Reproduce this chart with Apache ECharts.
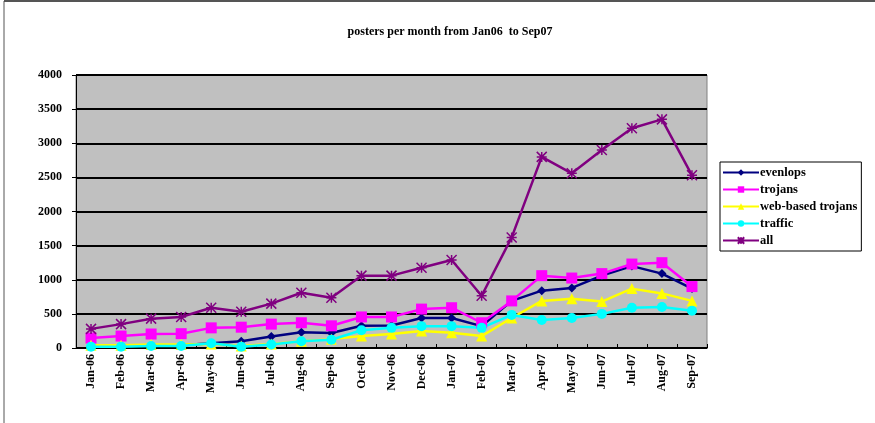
<!DOCTYPE html>
<html lang="en">
<head>
  <meta charset="UTF-8">
  <title>posters per month</title>
  <script src="https://cdn.jsdelivr.net/npm/echarts@6/dist/echarts.min.js"></script>
  <style>
    html, body { margin: 0; padding: 0; background: #fff; }
  </style>
</head>
<body>
  <div id="chart" style="width: 875px;height: 423px;"></div>

  <script type="text/javascript">
    const months = ['Jan-06', 'Feb-06', 'Mar-06', 'Apr-06', 'May-06', 'Jun-06', 'Jul-06',
      'Aug-06', 'Sep-06', 'Oct-06', 'Nov-06', 'Dec-06', 'Jan-07', 'Feb-07', 'Mar-07',
      'Apr-07', 'May-07', 'Jun-07', 'Jul-07', 'Aug-07', 'Sep-07'];

    const evenlops = [20, 30, 40, 40, 70, 100, 170, 230, 220, 325, 330, 440, 440, 320, 690, 840, 880, 1060, 1200, 1090, 870];
    const trojans = [145, 175, 205, 210, 295, 305, 350, 370, 325, 455, 455, 570, 590, 370, 690, 1060, 1025, 1090, 1230, 1250, 900];
    const webTrojans = [40, 40, 50, 50, 60, 30, 60, 100, 130, 175, 205, 250, 225, 175, 440, 690, 720, 680, 870, 800, 690];
    const traffic = [20, 20, 30, 30, 70, 20, 50, 100, 120, 260, 295, 320, 320, 295, 485, 410, 440, 500, 590, 600, 545];
    const all = [280, 350, 430, 455, 590, 530, 650, 810, 735, 1060, 1060, 1175, 1290, 765, 1620, 2800, 2560, 2900, 3220, 3350, 2530];

    const font = '"Liberation Serif", "DejaVu Serif", serif';
    const starPath = 'path://M0,0L10,10M10,0L0,10M5,0L5,10M0,5L10,5';

    function line(name, data, color, symbol, size, extra) {
      return Object.assign({
        name,
        type: 'line',
        data,
        symbol,
        symbolSize: size,
        lineStyle: { color, width: 2.5 },
        itemStyle: { color },
        z: 3,
      }, extra || {});
    }

    const myChart = echarts.init(document.getElementById('chart'));

    const option = {
      animation: false,
      backgroundColor: '#fff',
      title: {
        text: 'posters per month from Jan06  to Sep07',
        left: 445,
        top: 21,
        textAlign: 'center',
        textStyle: { fontFamily: font, fontWeight: 'bold', fontSize: 12, color: '#000' },
      },
      grid: {
        left: 76,
        top: 75,
        right: 168,
        bottom: 75,
        show: true,
        backgroundColor: '#c0c0c0',
        borderColor: '#808080',
        borderWidth: 1,
      },
      legend: {
        orient: 'vertical',
        left: 720,
        top: 162,
        itemWidth: 36,
        itemHeight: 8,
        itemGap: 4,
        padding: [4, 4, 4, 2],
        backgroundColor: '#fff',
        borderColor: '#000',
        borderWidth: 1,
        borderRadius: 0,
        textStyle: { fontFamily: font, fontWeight: 'bold', fontSize: 12.5, color: '#000', padding: [0, 0, 0, -4] },
        data: ['evenlops', 'trojans', 'web-based trojans', 'traffic', 'all'],
      },
      xAxis: {
        type: 'category',
        data: months,
        boundaryGap: true,
        axisLine: { lineStyle: { color: '#000', width: 1 } },
        axisTick: { show: true, inside: true, length: 4, lineStyle: { color: '#000' } },
        axisLabel: {
          rotate: 90,
          margin: 6,
          fontFamily: font,
          fontWeight: 'bold',
          fontSize: 12,
          color: '#000',
        },
      },
      yAxis: {
        type: 'value',
        min: 0,
        max: 4000,
        interval: 500,
        axisLine: { show: true, lineStyle: { color: '#000', width: 1 } },
        axisTick: { show: true, length: 4, lineStyle: { color: '#000' } },
        splitLine: { lineStyle: { color: '#000', width: 2 } },
        axisLabel: {
          margin: 14,
          formatter: (v) => String(v),
          fontFamily: font,
          fontWeight: 'bold',
          fontSize: 12,
          color: '#000',
        },
      },
      graphic: [
        { type: 'line', shape: { x1: 4, y1: 1, x2: 875, y2: 1 }, style: { stroke: '#555', lineWidth: 2 } },
        { type: 'line', shape: { x1: 4, y1: 1, x2: 4, y2: 423 }, style: { stroke: '#555', lineWidth: 1 } },
      ],
      series: [
        line('evenlops', evenlops, '#000080', 'diamond', 9),
        line('trojans', trojans, '#ff00ff', 'rect', 11),
        line('web-based trojans', webTrojans, '#ffff00', 'triangle', 11),
        line('traffic', traffic, '#00ffff', 'circle', 10),
        line('all', all, '#800080', starPath, 10, {
          itemStyle: { color: 'none', borderColor: '#800080', borderWidth: 1.5 },
        }),
      ],
    };
    myChart.setOption(option);
  </script>
</body>
</html>
